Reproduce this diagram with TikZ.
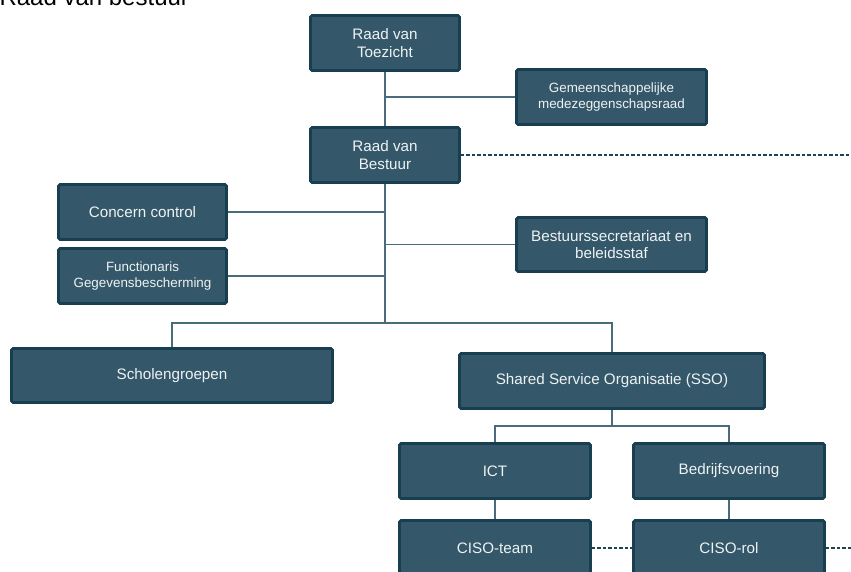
\documentclass[tikz,border=0pt]{standalone}
\usepackage{fontspec}
\setmainfont{Liberation Sans}
\usetikzlibrary{backgrounds}
\definecolor{boxvulling}{HTML}{345869}
\definecolor{boxrand}{HTML}{173F50}
\definecolor{boxtekst}{HTML}{EEF2F4}
\definecolor{lijnkleur}{HTML}{4A6B7B}
\definecolor{stippelkleur}{HTML}{1F4255}
\tikzset{
  orgbox/.style={draw=boxrand, fill=boxvulling, line width=2.6pt, rounded corners=1.5pt,
    text=boxtekst, align=center, inner sep=0pt, font=\fontsize{15.2}{17.5}\selectfont},
  orgklein/.style={orgbox, font=\fontsize{13.4}{15.5}\selectfont},
  verbinding/.style={draw=lijnkleur, line width=1.3pt},
  stippel/.style={draw=stippelkleur, line width=1.3pt, dash pattern=on 3.5pt off 2pt}
}
\begin{document}
\begin{tikzpicture}[x=1pt,y=-1pt]
\useasboundingbox (0,0) rectangle (851,572);
% Titel
\node[anchor=base west, font=\fontsize{24}{28}\selectfont] (titel) at (-4,6) {Raad van bestuur};

% Knoten
\node[orgbox, minimum width=149pt, minimum height=55pt] (rvt) at (385,43) {Raad van\\Toezicht};
\node[orgklein, minimum width=190pt, minimum height=55pt] (gmr) at (611.5,97) {Gemeenschappelijke\\medezeggenschapsraad};
\node[orgbox, minimum width=149pt, minimum height=55pt] (rvb) at (385,155) {Raad van\\Bestuur};
\node[orgbox, minimum width=168pt, minimum height=55pt] (cc) at (142.5,212) {Concern control};
\node[orgklein, minimum width=168pt, minimum height=55pt] (fg) at (142.5,276) {Functionaris\\Gegevensbescherming};
\node[orgbox, minimum width=190pt, minimum height=54pt] (bs) at (611.5,244.5) {Bestuurssecretariaat en\\beleidsstaf};
\node[orgbox, minimum width=321pt, minimum height=54pt] (sg) at (172,375.5) {Scholengroepen};
\node[orgbox, minimum width=305pt, minimum height=55pt] (sso) at (612,381) {Shared Service Organisatie (SSO)};
\node[orgbox, minimum width=191pt, minimum height=55pt] (ict) at (495,471) {ICT};
\node[orgbox, minimum width=191pt, minimum height=55pt] (bv) at (729,471) {Bedrijfsvoering};
\node[orgbox, minimum width=191pt, minimum height=55pt] (ct) at (495,548) {CISO-team};
\node[orgbox, minimum width=191pt, minimum height=55pt] (cr) at (729,548) {CISO-rol};

% Koordinaten
\coordinate (splitsing) at (385,323);
\coordinate (ssosplitsing) at (612,426);
\coordinate (rechtsboven) at (851,155);
\coordinate (rechtsonder) at (851,548);

% Verbindungen
\begin{scope}[on background layer]
\draw[verbinding] (rvt.south) -- (rvb.north);
\draw[verbinding] (gmr.west -| rvt.south) -- (gmr.west);
\draw[verbinding] (rvb.south) -- (splitsing);
\draw[verbinding] (cc.east) -- (cc.east -| rvb.south);
\draw[verbinding] (fg.east) -- (fg.east -| rvb.south);
\draw[verbinding] (bs.west) -- (bs.west -| rvb.south);
\draw[verbinding] (sg.north) |- (sso.north |- splitsing) -- (sso.north);
\draw[verbinding] (sso.south) -- (ssosplitsing);
\draw[verbinding] (ict.north) |- (ssosplitsing) -| (bv.north);
\draw[verbinding] (ict) -- (ct);
\draw[verbinding] (bv) -- (cr);
\end{scope}
\draw[stippel] (rvb.east) -- (rechtsboven);
\draw[stippel] (ct.east) -- (cr.west);
\draw[stippel] (cr.east) -- (rechtsonder);
\end{tikzpicture}
\end{document}
